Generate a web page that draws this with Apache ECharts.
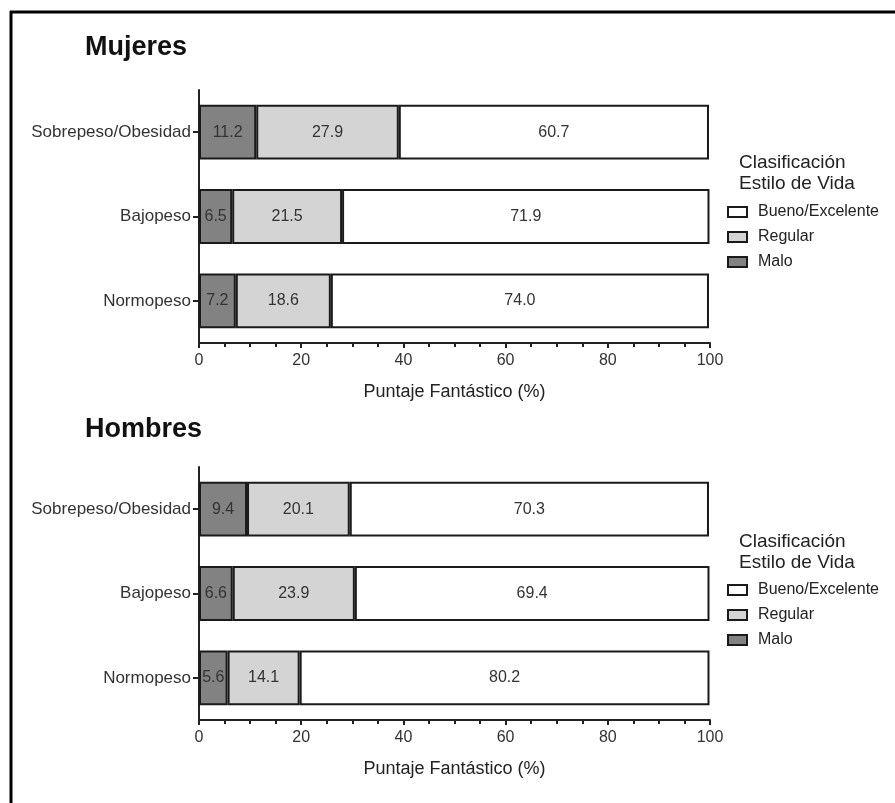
<!DOCTYPE html>
<html>
<head>
<meta charset="utf-8">
<script src="https://cdn.jsdelivr.net/npm/echarts@6/dist/echarts.min.js"></script>
<style>
html,body{margin:0;padding:0;background:#fff;}
#chart{width:895px;height:803px;}
</style>
</head>
<body>
<div id="chart"></div>
<script>
const categories = ['Normopeso', 'Bajopeso', 'Sobrepeso/Obesidad'];
const xTicks = [0, 20, 40, 60, 80, 100];
const seriesNames = ['Malo', 'Regular', 'Bueno/Excelente'];
const legendOrder = ['Bueno/Excelente', 'Regular', 'Malo'];
const mujeresMalo = [7.2, 6.5, 11.2];
const mujeresRegular = [18.6, 21.5, 27.9];
const mujeresBueno = [74.0, 71.9, 60.7];
const hombresMalo = [5.6, 6.6, 9.4];
const hombresRegular = [14.1, 23.9, 20.1];
const hombresBueno = [80.2, 69.4, 70.3];

const FONT = 'Liberation Sans, Arial, sans-serif';
const colors = {'Malo': '#828282', 'Regular': '#d4d4d4', 'Bueno/Excelente': '#ffffff'};

const chart = echarts.init(document.getElementById('chart'));

function xAxis(gridIndex) {
  return {
    type: 'value', gridIndex: gridIndex, min: 0, max: 100, interval: 20,
    name: 'Puntaje Fantástico (%)', nameLocation: 'middle', nameGap: 40,
    nameTextStyle: {fontFamily: FONT, fontSize: 18, color: '#222'},
    axisLine: {show: true, lineStyle: {color: '#222', width: 2}},
    axisTick: {show: true, length: 5, inside: false, lineStyle: {color: '#222', width: 2}},
    minorTick: {show: true, splitNumber: 4, length: 4, lineStyle: {color: '#222', width: 2}},
    splitLine: {show: false},
    axisLabel: {fontFamily: FONT, fontSize: 16, color: '#333', margin: 10,
      formatter: v => xTicks.includes(v) ? String(v) : ''}
  };
}
function yAxis(gridIndex) {
  return {
    type: 'category', gridIndex: gridIndex, data: categories,
    axisLine: {show: true, lineStyle: {color: '#222', width: 2}},
    axisTick: {show: true, alignWithLabel: true, length: 6, lineStyle: {color: '#222', width: 2}},
    axisLabel: {fontFamily: FONT, fontSize: 17, color: '#333', margin: 8}
  };
}
function mk(name, data, idx) {
  return {
    name: name, type: 'bar', stack: 'g' + idx, xAxisIndex: idx, yAxisIndex: idx,
    data: data, barWidth: '65%',
    itemStyle: {color: colors[name], borderColor: '#1a1a1a', borderWidth: 2},
    label: {show: true, position: 'inside', fontFamily: FONT, fontSize: 16, color: '#333',
      formatter: p => p.value.toFixed(1)},
    emphasis: {disabled: true}
  };
}
function legend(top) {
  return {
    data: legendOrder, orient: 'vertical', left: 722, top: top,
    itemWidth: 19, itemHeight: 10, itemGap: 9, selectedMode: false,
    icon: 'rect',
    itemStyle: {borderColor: '#1a1a1a', borderWidth: 2},
    textStyle: {fontFamily: FONT, fontSize: 16, color: '#222', padding: [0, 0, 0, 6]}
  };
}

const option = {
  backgroundColor: '#fff',
  animation: false,
  title: [
    {text: 'Mujeres', left: 80, top: 29, textStyle: {fontFamily: FONT, fontSize: 27, fontWeight: 'bold', color: '#111'}},
    {text: 'Hombres', left: 80, top: 411, textStyle: {fontFamily: FONT, fontSize: 27, fontWeight: 'bold', color: '#111'}},
    {text: 'Clasificación\nEstilo de Vida', left: 739, top: 152, padding: 0, textStyle: {fontFamily: FONT, fontSize: 19, fontWeight: 'normal', color: '#222', lineHeight: 21}},
    {text: 'Clasificación\nEstilo de Vida', left: 739, top: 531, padding: 0, textStyle: {fontFamily: FONT, fontSize: 19, fontWeight: 'normal', color: '#222', lineHeight: 21}}
  ],
  legend: [legend(199), legend(577)],
  grid: [
    {left: 199, width: 511, top: 90, height: 253},
    {left: 199, width: 511, top: 467, height: 253}
  ],
  xAxis: [xAxis(0), xAxis(1)],
  yAxis: [yAxis(0), yAxis(1)],
  series: [
    mk('Malo', mujeresMalo, 0), mk('Regular', mujeresRegular, 0), mk('Bueno/Excelente', mujeresBueno, 0),
    mk('Malo', hombresMalo, 1), mk('Regular', hombresRegular, 1), mk('Bueno/Excelente', hombresBueno, 1)
  ],
  graphic: [
    {type: 'line', shape: {x1: 10, y1: 12, x2: 895, y2: 12}, style: {stroke: '#000', lineWidth: 3}},
    {type: 'line', shape: {x1: 11, y1: 11, x2: 11, y2: 803}, style: {stroke: '#000', lineWidth: 3}}
  ]
};
chart.setOption(option);
</script>
</body>
</html>
